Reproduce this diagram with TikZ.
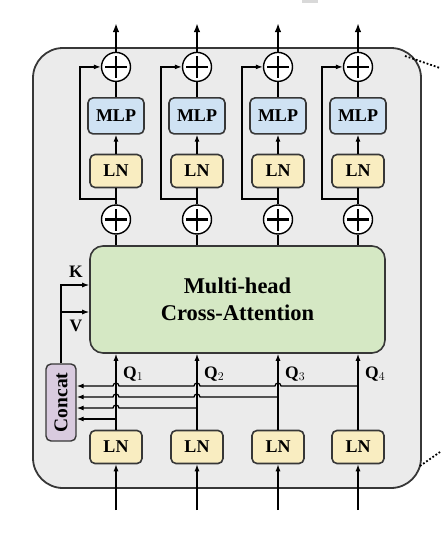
\documentclass[tikz,border=0pt]{standalone}
\usepackage{fontspec}
\setmainfont{Liberation Serif}
\usepackage{amsmath}
\usepackage{tikz}
\usetikzlibrary{arrows.meta,positioning}
\definecolor{blkgray}{RGB}{235,235,235}
\definecolor{edgegray}{RGB}{55,55,55}
\definecolor{lnyellow}{RGB}{249,237,193}
\definecolor{mlpblue}{RGB}{207,226,243}
\definecolor{attgreen}{RGB}{213,232,196}
\definecolor{catpurple}{RGB}{217,203,223}
\tikzstyle{outerbox}=[rectangle,rounded corners=30pt,draw=edgegray,line width=1.8pt,fill=blkgray,
                  minimum width=388pt,minimum height=440pt]
\tikzstyle{lnbox}=[rectangle,rounded corners=5pt,draw=edgegray,line width=1.6pt,fill=lnyellow,
                  minimum width=52pt,minimum height=33pt,font=\bfseries\fontsize{18}{18}\selectfont]
\tikzstyle{mlpbox}=[lnbox,fill=mlpblue,minimum width=56pt,minimum height=36pt]
\tikzstyle{attbox}=[rectangle,rounded corners=13pt,draw=edgegray,line width=1.6pt,fill=attgreen,
                  minimum width=295pt,minimum height=107pt,align=center,font=\bfseries\fontsize{22.5}{27}\selectfont]
\tikzstyle{catbox}=[rectangle,rounded corners=5pt,draw=edgegray,line width=1.4pt,fill=catpurple,
                  minimum width=77pt,minimum height=30pt,rotate=90,font=\bfseries\fontsize{19.5}{19.5}\selectfont]
\tikzstyle{addnode}=[circle,draw=black,line width=1.4pt,fill=white,minimum size=29pt,inner sep=0pt,
                  path picture={\draw[line width=2.4pt] ([xshift=-11pt]path picture bounding box.center)--([xshift=11pt]path picture bounding box.center)
                  ([yshift=-11pt]path picture bounding box.center)--([yshift=11pt]path picture bounding box.center);}]
\tikzstyle{link}=[line width=1.2pt]
\tikzstyle{arrow}=[-{Latex[length=7pt,width=5pt]},line width=1.2pt]
\tikzstyle{outarrow}=[-{Latex[length=9pt,width=6.5pt]},line width=2pt]
\tikzstyle{lab}=[font=\bfseries\fontsize{17.5}{17.5}\selectfont,inner sep=0pt]
\tikzstyle{zoomline}=[dotted,line width=1.8pt]

\begin{document}
\begin{tikzpicture}[x=1pt,y=-1pt]
      \useasboundingbox (0,0) rectangle (440,533);
      \fill[gray!30] (302,0) rectangle (318,3);
      \node[outerbox] (blk) at (227,268) {};
      \node[attbox] (att) at (237.5,299.5) {Multi-head\\Cross-Attention};
      \node[catbox] (cc) at (61,402.5) {Concat};

      \foreach \i/\x in {1/116,2/197,3/278,4/358}{
        \node[lnbox] (lb\i) at (\x,447) {LN};
        \node[addnode] (pa\i) at (\x,219.5) {};
        \node[lnbox,above=16pt of pa\i] (lt\i) {LN};
        \node[mlpbox,above=19pt of lt\i] (ml\i) {MLP};
        \node[addnode,above=15pt of ml\i] (pb\i) {};
        \coordinate (in\i) at (\x,510);
        \coordinate (out\i) at (\x,23);
        \coordinate (sk\i) at (\x,199);

        \draw[arrow] (in\i)--(lb\i);
        \draw[arrow] (lb\i)--(lb\i |- att.south);
        \node[lab,anchor=west] (q\i) at (\x+7,374) {$\mathbf{Q}_{\i}$};
        \draw[link] (att.north -| pa\i)--(pa\i);
        \draw[link] (pa\i)--(lt\i);
        \draw[arrow] (lt\i)--(ml\i);
        \draw[link] (ml\i)--(pb\i);
        \draw[outarrow] (pb\i)--(out\i);
        \draw[arrow] (sk\i)--++(-36,0)|-(pb\i.west);
      }

      % heads into concat, hopping over the Q lines
      \draw[arrow] (lb1.north |- 0,419)--(cc.south |- 0,419);
      \draw[arrow] (lb2.north |- 0,408)--++(-78,0) arc (0:180:3pt)--(cc.south |- 0,408);
      \draw[arrow] (lb3.north |- 0,397)--++(-78,0) arc (0:180:3pt)--++(-75,0) arc (0:180:3pt)--(cc.south |- 0,397);
      \draw[arrow] (lb4.north |- 0,386)--++(-77,0) arc (0:180:3pt)--++(-75,0) arc (0:180:3pt)--++(-75,0) arc (0:180:3pt)--(cc.south |- 0,386);

      \draw[arrow] (cc.east)|-(att.west |- 0,285);
      \draw[arrow] (cc.east |- 0,312)--(att.west |- 0,312);
      \node[lab] (klab) at (76,272) {K};
      \node[lab] (vlab) at (76,326) {V};

      \coordinate (zt0) at (405,56);
      \coordinate (zt1) at (440,68);
      \coordinate (zb0) at (420,466);
      \coordinate (zb1) at (440,452);
      \draw[zoomline] (zt0)--(zt1);
      \draw[zoomline] (zb0)--(zb1);
    \end{tikzpicture}
\end{document}
